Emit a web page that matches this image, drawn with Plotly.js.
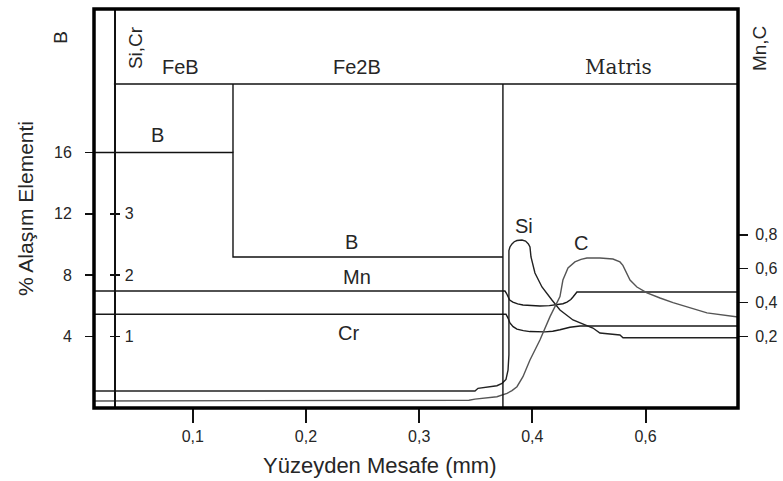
<!DOCTYPE html>
<html>
<head>
<meta charset="utf-8">
<script src="https://cdn.plot.ly/plotly-3.0.1.min.js"></script>
<style>
html,body{margin:0;padding:0;background:#fff;}
#chart{width:783px;height:481px;}
</style>
</head>
<body>
<div id="chart"></div>
<script>
// ---- data (x in mm-position units, y in each element's own axis units) ----
const xTickVals  = [0.1, 0.2, 0.3, 0.4, 0.5];
const xTickText  = ['0,1', '0,2', '0,3', '0,4', '0,6'];
const bTickVals  = [4, 8, 12, 16];
const siCrTickVals = [1, 2, 3];
const mnCTickVals  = [0.2, 0.4, 0.6, 0.8];
const mnCTickText  = ['0,2', '0,4', '0,6', '0,8'];

const phaseNames = ['FeB', 'Fe2B', 'Matris'];
const phaseEdges = [0.0303, 0.1355, 0.374];   // Si,Cr axis, FeB|Fe2B, Fe2B|Matris
const headerLevel = 20.47;                     // header line (B-axis units)

// B (left axis, %)
const bX = [0.0127, 0.1355, 0.1355, 0.374];
const bY = [16, 16, 9.18, 9.18];

// Mn (right axis)
const mnX = [0.0127, 0.3758, 0.3771, 0.3784, 0.3800, 0.3828, 0.3870, 0.3917, 0.3990, 0.4067, 0.4150, 0.4217, 0.4270, 0.4306, 0.4340, 0.4359, 0.4378, 0.4394, 0.5817];
const mnY = [0.468, 0.468, 0.455, 0.433, 0.415, 0.403, 0.392, 0.386, 0.381, 0.380, 0.382, 0.386, 0.393, 0.403, 0.418, 0.433, 0.452, 0.4625, 0.4625];

// Cr (inner axis)
const crX = [0.0127, 0.3767, 0.3785, 0.3802, 0.3830, 0.3864, 0.3920, 0.3979, 0.4111, 0.4180, 0.4244, 0.4332, 0.4421, 0.5817];
const crY = [1.362, 1.362, 1.30, 1.22, 1.16, 1.12, 1.095, 1.08, 1.075, 1.085, 1.11, 1.15, 1.171, 1.171];

// Si (inner axis)
const siX = [0.0127, 0.3493, 0.3520, 0.3626, 0.3687, 0.3732, 0.3767, 0.3785, 0.3793, 0.3793, 0.3802, 0.3820, 0.3840, 0.3864, 0.3908, 0.3940, 0.3965, 0.3979, 0.3988, 0.4023, 0.4085, 0.4173, 0.4244, 0.4359, 0.4535, 0.4597, 0.4774, 0.4801, 0.5817];
const siY = [0.111, 0.111, 0.155, 0.181, 0.197, 0.236, 0.30, 0.45, 0.70, 2.40, 2.46, 2.51, 2.545, 2.565, 2.573, 2.555, 2.51, 2.459, 2.296, 2.035, 1.807, 1.595, 1.432, 1.269, 1.138, 1.057, 1.024, 0.98, 0.98];

// C (right axis)
const cX = [0.0127, 0.3387, 0.3440, 0.3493, 0.3590, 0.3687, 0.3776, 0.3820, 0.3864, 0.3917, 0.3979, 0.4067, 0.4156, 0.4200, 0.4244, 0.4270, 0.4315, 0.4376, 0.4430, 0.4482, 0.4597, 0.4712, 0.4774, 0.4800, 0.4818, 0.4840, 0.4863, 0.4924, 0.5013, 0.5128, 0.5243, 0.5543, 0.5773, 0.5817];
const cY = [-0.181, -0.181, -0.177, -0.170, -0.163, -0.156, -0.136, -0.120, -0.097, -0.038, 0.061, 0.179, 0.317, 0.380, 0.435, 0.533, 0.604, 0.640, 0.655, 0.663, 0.663, 0.657, 0.640, 0.620, 0.592, 0.560, 0.533, 0.492, 0.457, 0.427, 0.400, 0.339, 0.317, 0.315];

// ---- drawing ----
const FONT = 'Liberation Sans, Arial, sans-serif';
const TXT = '#262626';
const X_RANGE = [0.0127, 0.5817];
const B_RANGE = [-0.665, 25.36];
const SC_RANGE = [B_RANGE[0] / 4, B_RANGE[1] / 4];
const MC_RANGE = [-0.2227, 2.134];

const lineStyle = (c, w) => ({color: c, width: w});
const traces = [
  {x: bX, y: bY, yaxis: 'y', mode: 'lines', line: lineStyle('#111', 1.4), name: 'B'},
  {x: mnX, y: mnY, yaxis: 'y3', mode: 'lines', line: lineStyle('#1a1a1a', 1.4), name: 'Mn'},
  {x: crX, y: crY, yaxis: 'y2', mode: 'lines', line: lineStyle('#1a1a1a', 1.4), name: 'Cr'},
  {x: siX, y: siY, yaxis: 'y2', mode: 'lines', line: lineStyle('#222', 1.4), name: 'Si'},
  {x: cX, y: cY, yaxis: 'y3', mode: 'lines', line: lineStyle('#555', 1.4), name: 'C'},
  {x: [null], y: [null], yaxis: 'y4', mode: 'lines', showlegend: false, hoverinfo: 'skip'}
];

const innerPos = 0.0311;
const ann = (x, y, text, size, extra) => Object.assign({xref: 'x', yref: 'y', x: x, y: y, text: text, showarrow: false, xanchor: 'center', yanchor: 'middle', font: {size: size}}, extra || {});
const layout = {
  width: 783, height: 481,
  margin: {l: 94, r: 45, t: 9, b: 73},
  paper_bgcolor: '#fff', plot_bgcolor: '#fff',
  showlegend: false,
  font: {family: FONT, color: TXT, size: 16},
  xaxis: {
    range: X_RANGE, tickvals: xTickVals, ticktext: xTickText,
    ticks: 'outside', ticklen: 14, tickwidth: 2, tickcolor: '#111',
    showgrid: false, zeroline: false, showline: false,
    tickfont: {size: 16, color: TXT}, ticklabelstandoff: 0
  },
  yaxis: {
    range: B_RANGE, tickvals: bTickVals,
    ticks: 'outside', ticklen: 8, tickwidth: 1.5, tickcolor: '#111',
    showgrid: false, zeroline: false, showline: false,
    tickfont: {size: 16, color: TXT}, ticklabelstandoff: 10,
    title: {text: '% Alaşım Elementi', font: {size: 21, color: TXT}, standoff: 14}
  },
  yaxis2: {
    overlaying: 'y', anchor: 'free', position: innerPos, side: 'right',
    range: SC_RANGE, tickvals: siCrTickVals,
    ticks: 'outside', ticklen: 4, tickwidth: 1.5, tickcolor: '#111',
    showline: true, linecolor: '#111', linewidth: 1.5,
    showgrid: false, zeroline: false,
    tickfont: {size: 16, color: TXT}, ticklabelstandoff: 2
  },
  yaxis4: {
    overlaying: 'y', anchor: 'free', position: innerPos, side: 'left',
    range: SC_RANGE, tickvals: siCrTickVals, showticklabels: false,
    ticks: 'outside', ticklen: 4, tickwidth: 1.5, tickcolor: '#111',
    showline: false, showgrid: false, zeroline: false
  },
  yaxis3: {
    overlaying: 'y', anchor: 'x', side: 'right',
    range: MC_RANGE, tickvals: mnCTickVals, ticktext: mnCTickText,
    ticks: 'outside', ticklen: 9, tickwidth: 1.5, tickcolor: '#111',
    showline: false, showgrid: false, zeroline: false,
    tickfont: {size: 16, color: TXT}, ticklabelstandoff: 4
  },
  shapes: [
    {type: 'line', xref: 'x', yref: 'y', x0: phaseEdges[0], x1: X_RANGE[1], y0: headerLevel, y1: headerLevel, line: {color: '#111', width: 1.4}},
    {type: 'line', xref: 'x', yref: 'y', x0: phaseEdges[1], x1: phaseEdges[1], y0: headerLevel, y1: bY[1], line: {color: '#111', width: 1.4}},
    {type: 'line', xref: 'x', yref: 'y', x0: phaseEdges[2], x1: phaseEdges[2], y0: headerLevel, y1: B_RANGE[0], line: {color: '#111', width: 1.4}},
    {type: 'rect', xref: 'paper', yref: 'paper', x0: 0, x1: 1, y0: 0, y1: 1, line: {color: '#000', width: 3.5}, layer: 'above'}
  ],
  annotations: [
    ann(0.0887, 21.58, phaseNames[0], 20),
    ann(0.2450, 21.58, phaseNames[1], 20),
    ann(0.4765, 21.58, phaseNames[2], 20, {font: {size: 20, family: 'DejaVu Serif, Liberation Serif, serif'}}),
    ann(0.0692, 17.14, 'B', 20),
    ann(0.2405, 10.16, 'B', 20),
    ann(0.2450, 7.88, 'Mn', 20),
    ann(0.2379, 4.23, 'Cr', 20),
    ann(0.3926, 11.21, 'Si', 20),
    ann(0.4429, 10.10, 'C', 20),
    ann(-0.0512, 0.928, 'B', 19, {xref: 'paper', yref: 'paper', textangle: -90}),
    ann(0.0637, 0.902, 'Si,Cr', 19, {xref: 'paper', yref: 'paper', textangle: -90}),
    ann(1.0326, 0.902, 'Mn,C', 19, {xref: 'paper', yref: 'paper', textangle: -90}),
    ann(0.444, -0.1429, 'Yüzeyden Mesafe (mm)', 22, {xref: 'paper', yref: 'paper'})
  ]
};

Plotly.newPlot('chart', traces, layout, {staticPlot: true, displayModeBar: false});
</script>
</body>
</html>
